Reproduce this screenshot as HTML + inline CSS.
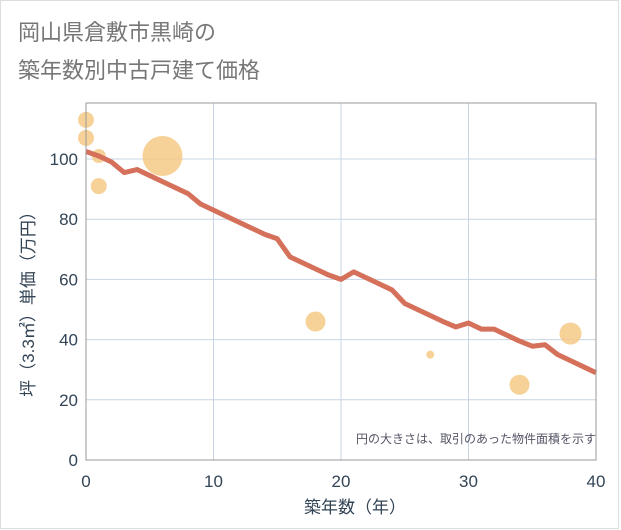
<!DOCTYPE html>
<html><head><meta charset="utf-8"><style>
body{margin:0;background:#fff;}
svg{display:block;font-family:"Liberation Sans","Noto Sans CJK JP",sans-serif;}
</style></head><body>
<svg id="c" width="621" height="530">
<rect x="0.5" y="0.5" width="618" height="528" fill="#fff" stroke="#ddd"/>
<text x="18" y="40" font-size="22" fill="#777">岡山県倉敷市黒崎の</text>
<text x="18" y="78" font-size="22" fill="#777">築年数別中古戸建て価格</text>
<g id="grid"></g>
<g id="marks"></g>
<g id="axes"></g>
<text x="596" y="443" font-size="12" fill="#556" text-anchor="end">円の大きさは、取引のあった物件面積を示す</text>
<text x="355" y="513" font-size="17" fill="#345" text-anchor="middle">築年数（年）</text>
<text transform="translate(34,300) rotate(-90)" font-size="17" fill="#345" text-anchor="middle">坪（3.3㎡）単価（万円）</text>
</svg>
<script>
const xTicks=[0,10,20,30,40];
const yTicks=[0,20,40,60,80,100];
const lineYears=[0,1,2,3,4,5,6,7,8,9,10,11,12,13,14,15,16,17,18,19,20,21,22,23,24,25,26,27,28,29,30,31,32,33,34,35,36,37,38,39,40];
const linePrices=[102.5,101,99,95.5,96.5,94.5,92.5,90.5,88.5,85,83,81,79,77,75,73.5,67.5,65.5,63.5,61.5,60,62.5,60.5,58.5,56.5,52,50,48,46,44.2,45.5,43.5,43.5,41.5,39.5,37.8,38.3,35,33,31,29];
const bubbleYears=[0,0,1,1,6,18,27,34,38];
const bubblePrices=[113,107,101,91,101,46,35,25,42];
const bubbleSizes=[8,8,7,8,20,10,4,10,11];
const L=86,R=596,T=103,B=460;
const xs=v=>L+(v-0)/40*(R-L);
const ys=v=>B-v*3.01;
const NS="http://www.w3.org/2000/svg";
function mk(t,a,p){const e=document.createElementNS(NS,t);for(const k in a)e.setAttribute(k,a[k]);p.appendChild(e);return e;}
const g=document.getElementById('grid'),m=document.getElementById('marks'),ax=document.getElementById('axes');
xTicks.forEach(v=>{const l=mk('line',{x1:xs(v),x2:xs(v),y1:T,y2:B,stroke:'#c8d4e4','stroke-width':1},g);


const t=mk('text',{x:xs(v),y:487,'font-size':17,fill:'#345','text-anchor':'middle'},ax);t.textContent=v;

});
yTicks.forEach(v=>{const l=mk('line',{x1:L,x2:R,y1:ys(v),y2:ys(v),stroke:'#c8d4e4','stroke-width':1},g);


const t=mk('text',{x:78,y:ys(v)+6,'font-size':17,fill:'#345','text-anchor':'end'},ax);t.textContent=v;

});
const fr=mk('rect',{x:L,y:T,width:R-L,height:B-T,fill:'none',stroke:'#999','stroke-width':1},ax);


bubbleYears.forEach((v,i)=>{const c=mk('circle',{cx:xs(v),cy:ys(bubblePrices[i]),r:bubbleSizes[i],fill:'#f5c77e','fill-opacity':0.8},m);

});
const pl=mk('polyline',{points:lineYears.map((v,i)=>xs(v)+','+ys(linePrices[i])).join(' '),fill:'none',stroke:'#d5705a','stroke-width':5,'stroke-linejoin':'round'},m);


</script>
</body></html>
